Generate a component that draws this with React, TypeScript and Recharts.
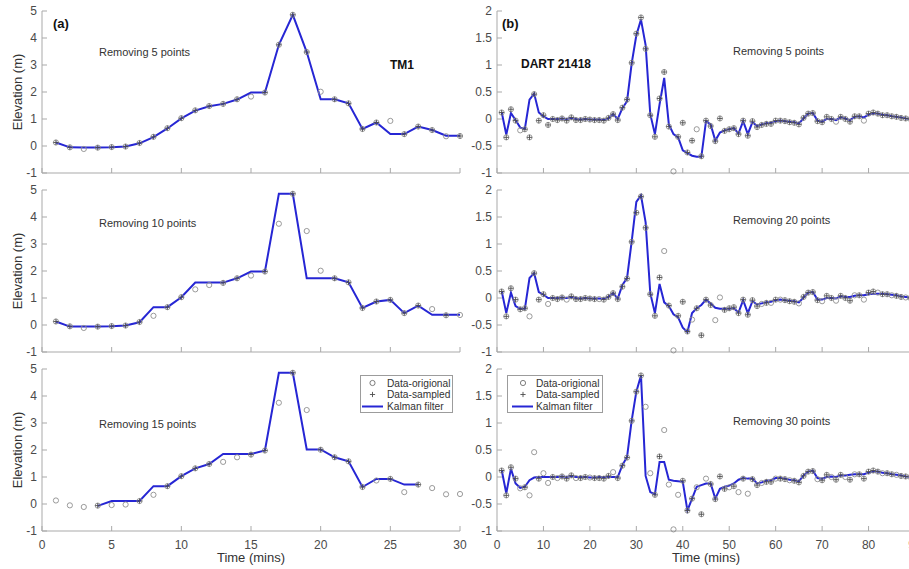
import React from "react";
import { ComposedChart, Line, XAxis, YAxis, Legend } from "recharts";

const FONT = '"Liberation Sans", Arial, Helvetica, sans-serif';
const BLUE = "#2626d4";
const AXIS = "#a9a9a9";
const TICK_TEXT = "#4a4a4a";

// TM1 gauge, one value per minute
const tm1Time = [1, 2, 3, 4, 5, 6, 7, 8, 9, 10, 11, 12, 13, 14, 15, 16, 17, 18, 19, 20, 21, 22, 23, 24, 25, 26, 27, 28, 29, 30];
const tm1Orig = [0.13, -0.05, -0.11, -0.06, -0.04, -0.02, 0.11, 0.34, 0.66, 1.03, 1.32, 1.48, 1.56, 1.73, 1.83, 1.98, 3.75, 4.86, 3.48, 2.01, 1.73, 1.58, 0.63, 0.87, 0.93, 0.44, 0.72, 0.59, 0.36, 0.37];
const tm1Kalman5 = [0.13, -0.05, -0.06, -0.06, -0.05, -0.02, 0.1, 0.33, 0.65, 1.02, 1.31, 1.47, 1.56, 1.72, 1.98, 1.98, 3.75, 4.86, 3.48, 1.73, 1.73, 1.58, 0.63, 0.87, 0.44, 0.44, 0.72, 0.59, 0.38, 0.38];
const tm1Kalman10 = [0.13, -0.06, -0.06, -0.06, -0.05, -0.02, 0.1, 0.66, 0.66, 1.03, 1.57, 1.57, 1.57, 1.73, 1.98, 1.98, 4.86, 4.86, 1.73, 1.73, 1.73, 1.58, 0.63, 0.87, 0.93, 0.44, 0.72, 0.38, 0.38, 0.38];
const tm1Kalman15 = [null, null, null, -0.07, 0.11, 0.11, 0.11, 0.66, 0.66, 1.03, 1.32, 1.48, 1.85, 1.85, 1.85, 1.98, 4.86, 4.86, 2.02, 2.02, 1.73, 1.58, 0.63, 0.93, 0.93, 0.72, 0.72, null, null, null];
const tm1Removed5 = [3, 15, 20, 25, 29];
const tm1Removed10 = [3, 8, 11, 12, 15, 17, 19, 20, 28, 30];
const tm1Removed15 = [1, 2, 3, 5, 6, 8, 13, 14, 17, 19, 24, 26, 28, 29, 30];

// DART 21418, one value per minute
const dartTime = [
  1, 2, 3, 4, 5, 6, 7, 8, 9, 10, 11, 12, 13, 14, 15, 16, 17, 18, 19, 20, 21, 22, 23, 24, 25, 26, 27, 28, 29, 30,
  31, 32, 33, 34, 35, 36, 37, 38, 39, 40, 41, 42, 43, 44, 45, 46, 47, 48, 49, 50, 51, 52, 53, 54, 55, 56, 57, 58, 59, 60,
  61, 62, 63, 64, 65, 66, 67, 68, 69, 70, 71, 72, 73, 74, 75, 76, 77, 78, 79, 80, 81, 82, 83, 84, 85, 86, 87, 88, 89, 90,
];
const dartOrig = [
  0.12, -0.34, 0.18, -0.03, -0.21, -0.19, -0.34, 0.46, -0.03, 0.07, -0.11, 0.0, -0.02, 0.01, -0.03, 0.03, -0.02, -0.02, 0.0, -0.01,
  -0.02, -0.02, -0.03, 0.02, 0.09, -0.02, 0.21, 0.36, 1.04, 1.58, 1.88, 1.3, 0.07, -0.33, 0.38, 0.87, -0.14, -0.97, -0.33, -0.07,
  -0.62, -0.4, -0.19, -0.69, -0.03, -0.13, -0.41, 0.01, -0.22, -0.19, -0.17, -0.28, -0.03, -0.31, -0.04, -0.15, -0.11, -0.09, -0.09, -0.03,
  -0.03, -0.04, -0.06, -0.07, -0.1, 0.02, 0.1, 0.11, -0.04, -0.06, 0.04, 0.0, -0.05, 0.04, 0.0, -0.05, 0.05, 0.05, -0.03, 0.1,
  0.12, 0.1, 0.07, 0.07, 0.05, 0.04, 0.02, 0.01, 0.0, -0.02,
];
const dartKalman5 = [
  0.13, -0.29, 0.11, -0.02, -0.16, -0.18, 0.36, 0.47, 0.12, 0.05, 0.0, 0.0, 0.0, 0.01, 0.0, 0.02, 0.0, -0.01, 0.0, -0.01,
  -0.01, -0.01, -0.02, 0.01, 0.09, 0.0, 0.2, 0.33, 1.03, 1.55, 1.84, 1.37, 0.09, -0.28, 0.27, 0.76, -0.1, -0.28, -0.34, -0.58,
  -0.63, -0.68, -0.7, -0.7, -0.04, -0.1, -0.4, -0.25, -0.21, -0.19, -0.17, -0.27, -0.04, -0.28, -0.06, -0.13, -0.1, -0.08, -0.07, -0.04,
  -0.03, -0.04, -0.05, -0.06, -0.08, 0.01, 0.1, 0.11, -0.03, -0.05, 0.0, 0.0, -0.02, 0.03, 0.01, -0.02, 0.04, 0.05, 0.03, 0.08,
  0.1, 0.1, 0.08, 0.07, 0.05, 0.04, 0.03, 0.01, 0.0, -0.01,
];
const dartKalman20 = [
  0.13, -0.28, 0.1, -0.15, -0.2, -0.2, 0.37, 0.46, 0.11, 0.06, 0.0, 0.0, 0.0, 0.01, 0.0, 0.02, 0.0, -0.01, 0.0, -0.01,
  -0.01, -0.01, -0.02, 0.02, 0.09, -0.01, 0.24, 0.37, 1.05, 1.78, 1.9, 1.4, 0.09, -0.28, 0.26, -0.08, -0.15, -0.3, -0.36, -0.55,
  -0.63, -0.28, -0.19, -0.13, -0.03, -0.1, -0.18, -0.2, -0.2, -0.2, -0.19, -0.27, -0.04, -0.28, -0.06, -0.12, -0.1, -0.08, -0.07, -0.04,
  -0.03, -0.04, -0.05, -0.06, -0.08, 0.01, 0.1, 0.11, -0.03, -0.03, 0.0, 0.0, -0.01, 0.03, 0.02, 0.02, 0.04, 0.05, 0.05, 0.07,
  0.08, 0.08, 0.08, 0.07, 0.06, 0.05, 0.03, 0.02, 0.01, 0.0,
];
const dartKalman30 = [
  0.13, -0.3, 0.15, -0.12, -0.2, -0.18, -0.06, -0.01, 0.0, 0.0, 0.0, 0.0, 0.0, 0.01, 0.0, 0.02, 0.0, 0.0, 0.0, -0.01,
  -0.01, 0.0, 0.0, 0.0, 0.0, 0.0, 0.22, 0.37, 1.05, 1.58, 1.88, 0.02, -0.28, -0.32, 0.28, 0.28, -0.05, -0.07, -0.08, -0.09,
  -0.62, -0.4, -0.18, -0.15, -0.12, -0.12, -0.4, -0.22, -0.18, -0.16, -0.12, -0.05, -0.02, -0.03, -0.03, -0.12, -0.1, -0.07, -0.06, -0.02,
  -0.02, -0.03, -0.05, -0.06, -0.08, 0.03, 0.1, 0.12, -0.02, -0.03, 0.0, 0.01, 0.0, 0.03, 0.03, 0.04, 0.05, 0.05, 0.05, 0.08,
  0.1, 0.1, 0.08, 0.07, 0.05, 0.04, 0.03, 0.01, 0.0, -0.01,
];
const dartRemoved5 = [5, 38, 43, 73, 79];
const dartRemoved20 = [7, 11, 15, 22, 36, 38, 42, 47, 48, 57, 59, 61, 65, 70, 73, 77, 79, 82, 85, 88];
const dartRemoved30 = [5, 7, 8, 10, 11, 13, 17, 20, 25, 32, 33, 36, 37, 38, 39, 43, 45, 50, 52, 54, 57, 60, 63, 69, 72, 75, 77, 83, 86, 89];

const tm1XTicks = [0, 5, 10, 15, 20, 25, 30];
const tm1YTicks = [-1, 0, 1, 2, 3, 4, 5];
const dartXTicks = [0, 10, 20, 30, 40, 50, 60, 70, 80, 90];
const dartYTicks = [-1, -0.5, 0, 0.5, 1, 1.5, 2];
const legendLabels = ["Data-origional", "Data-sampled", "Kalman filter"];

type Row = { t: number; orig: number | null; sampled: number | null; kalman: number | null };

function buildRows(time: number[], orig: number[], kalman: (number | null)[], removed: number[]): Row[] {
  return time.map((t, i) => ({
    t,
    orig: orig[i],
    sampled: removed.includes(t) ? null : orig[i],
    kalman: kalman[i],
  }));
}

function openCircle(props: any) {
  const { cx, cy, index } = props;
  if (cx == null || cy == null || props.value == null) return <g key={`o-${index}`} />;
  return <circle key={`o-${index}`} cx={cx} cy={cy} r={2.6} fill="none" stroke="#8e8e8e" strokeWidth={0.9} />;
}

function plusMark(props: any) {
  const { cx, cy, index } = props;
  if (cx == null || cy == null || props.value == null) return <g key={`p-${index}`} />;
  return (
    <path
      key={`p-${index}`}
      d={`M${cx - 2.6},${cy}H${cx + 2.6}M${cx},${cy - 2.6}V${cy + 2.6}`}
      stroke="#4d4d4d"
      strokeWidth={0.9}
      fill="none"
    />
  );
}

interface Note {
  text: string;
  x: number;
  y: number;
  bold?: boolean;
  size?: number;
}

interface LegendSpec {
  x: number;
  y: number;
  w: number;
  markerX: number;
  lineX1: number;
  lineX2: number;
  textX: number;
}

function LegendBox({ spec }: { spec: LegendSpec }) {
  const rowsY = [8, 19.5, 31.5];
  return (
    <svg width={spec.w} height={38} style={{ display: "block" }}>
      <rect x={0.5} y={0.5} width={spec.w - 1} height={37} fill="#fff" stroke="#9c9c9c" strokeWidth={1} />
      <circle cx={spec.markerX} cy={rowsY[0]} r={2.6} fill="none" stroke="#6e6e6e" strokeWidth={0.9} />
      <path
        d={`M${spec.markerX - 2.6},${rowsY[1]}H${spec.markerX + 2.6}M${spec.markerX},${rowsY[1] - 2.6}V${rowsY[1] + 2.6}`}
        stroke="#4d4d4d"
        strokeWidth={0.9}
      />
      <line x1={spec.lineX1} x2={spec.lineX2} y1={rowsY[2]} y2={rowsY[2]} stroke={BLUE} strokeWidth={2} />
      {legendLabels.map((label, i) => (
        <text key={label} x={spec.textX} y={rowsY[i] + 3.6} fontSize={10.2} fontFamily={FONT} fill="#333">
          {label}
        </text>
      ))}
    </svg>
  );
}

interface PanelProps {
  left: number;
  top: number;
  yAxisW: number;
  rows: Row[];
  xDomain: [number, number];
  xTicks: number[];
  yDomain: [number, number];
  yTicks: number[];
  bottom?: boolean;
  yLabel?: boolean;
  notes: Note[];
  legend?: LegendSpec;
}

const PLOT_W = 418;
const PLOT_H = 162;

function Panel({ left, top, yAxisW, rows, xDomain, xTicks, yDomain, yTicks, bottom, yLabel, notes, legend }: PanelProps) {
  const chartLeft = left - yAxisW;
  const chartTop = top - 6;
  const xAxisH = bottom ? 30 : 4;
  const width = yAxisW + PLOT_W + 10;
  const height = 6 + PLOT_H + xAxisH + 8;
  const axisProps = {
    stroke: AXIS,
    tickSize: -5,
    tick: { fill: TICK_TEXT, fontSize: 12, fontFamily: FONT },
    tickLine: { stroke: AXIS },
    axisLine: { stroke: AXIS },
  };
  const blank = () => "";

  return (
    <div style={{ position: "absolute", left: chartLeft, top: chartTop }}>
      <ComposedChart width={width} height={height} data={rows} margin={{ top: 6, right: 10, bottom: 8, left: 0 }}>
        <XAxis
          {...axisProps}
          xAxisId="b"
          dataKey="t"
          type="number"
          domain={xDomain}
          ticks={xTicks}
          height={xAxisH}
          tickMargin={14}
          interval={0}
          tickFormatter={bottom ? undefined : blank}
          label={
            bottom
              ? { value: "Time (mins)", position: "insideBottom", offset: -1, fill: "#333", fontSize: 13, fontFamily: FONT }
              : undefined
          }
        />
        <XAxis {...axisProps} xAxisId="top" orientation="top" dataKey="t" type="number" domain={xDomain} ticks={xTicks} height={0} interval={0} tickFormatter={blank} />
        <YAxis
          {...axisProps}
          yAxisId="l"
          type="number"
          domain={yDomain}
          ticks={yTicks}
          width={yAxisW}
          tickMargin={10}
          interval={0}
          label={
            yLabel
              ? { value: "Elevation (m)", angle: -90, position: "insideLeft", offset: 17, fill: "#333", fontSize: 13, fontFamily: FONT, style: { textAnchor: "middle" } }
              : undefined
          }
        />
        <YAxis {...axisProps} yAxisId="r" orientation="right" type="number" domain={yDomain} ticks={yTicks} width={0} interval={0} tickFormatter={blank} />
        <Line xAxisId="b" yAxisId="l" dataKey="orig" stroke="none" dot={openCircle} activeDot={false} isAnimationActive={false} />
        <Line xAxisId="b" yAxisId="l" dataKey="sampled" stroke="none" dot={plusMark} activeDot={false} isAnimationActive={false} />
        <Line xAxisId="b" yAxisId="l" dataKey="kalman" stroke={BLUE} strokeWidth={2} dot={false} activeDot={false} isAnimationActive={false} />
        {notes.map((n) => (
          <text
            key={n.text}
            x={n.x - chartLeft}
            y={n.y - chartTop}
            fontFamily={FONT}
            fontSize={n.size ?? 11}
            fontWeight={n.bold ? "bold" : "normal"}
            fill={n.bold ? "#111" : "#333"}
          >
            {n.text}
          </text>
        ))}
        {legend && (
          <Legend
            layout="vertical"
            align="center"
            verticalAlign="middle"
            wrapperStyle={{ left: legend.x - chartLeft, top: legend.y - chartTop, width: legend.w }}
            content={() => <LegendBox spec={legend} />}
          />
        )}
      </ComposedChart>
    </div>
  );
}

const LEFT_X = 42;
const RIGHT_X = 497;
const ROW_TOPS = [11, 190, 369];

export default function App() {
  return (
    <div style={{ position: "absolute", left: 0, top: 0, width: 909, height: 569, overflow: "hidden", background: "#fff" }}>
      <Panel
        left={LEFT_X}
        top={ROW_TOPS[0]}
        yAxisW={42}
        rows={buildRows(tm1Time, tm1Orig, tm1Kalman5, tm1Removed5)}
        xDomain={[0, 30]}
        xTicks={tm1XTicks}
        yDomain={[-1, 5]}
        yTicks={tm1YTicks}
        yLabel
        notes={[
          { text: "(a)", x: 53, y: 28, bold: true, size: 13 },
          { text: "Removing 5 points", x: 99, y: 56 },
          { text: "TM1", x: 390, y: 69, bold: true, size: 12 },
        ]}
      />
      <Panel
        left={LEFT_X}
        top={ROW_TOPS[1]}
        yAxisW={42}
        rows={buildRows(tm1Time, tm1Orig, tm1Kalman10, tm1Removed10)}
        xDomain={[0, 30]}
        xTicks={tm1XTicks}
        yDomain={[-1, 5]}
        yTicks={tm1YTicks}
        yLabel
        notes={[{ text: "Removing 10 points", x: 99, y: 227 }]}
      />
      <Panel
        left={LEFT_X}
        top={ROW_TOPS[2]}
        yAxisW={42}
        rows={buildRows(tm1Time, tm1Orig, tm1Kalman15, tm1Removed15)}
        xDomain={[0, 30]}
        xTicks={tm1XTicks}
        yDomain={[-1, 5]}
        yTicks={tm1YTicks}
        yLabel
        bottom
        notes={[{ text: "Removing 15 points", x: 99, y: 428 }]}
        legend={{ x: 360, y: 375, w: 93, markerX: 372.5 - 360, lineX1: 2, lineX2: 23, textX: 27 }}
      />
      <Panel
        left={RIGHT_X}
        top={ROW_TOPS[0]}
        yAxisW={45}
        rows={buildRows(dartTime, dartOrig, dartKalman5, dartRemoved5)}
        xDomain={[0, 90]}
        xTicks={dartXTicks}
        yDomain={[-1, 2]}
        yTicks={dartYTicks}
        notes={[
          { text: "(b)", x: 502, y: 28, bold: true, size: 13 },
          { text: "DART 21418", x: 521, y: 68, bold: true, size: 12 },
          { text: "Removing 5 points", x: 733, y: 55 },
        ]}
      />
      <Panel
        left={RIGHT_X}
        top={ROW_TOPS[1]}
        yAxisW={45}
        rows={buildRows(dartTime, dartOrig, dartKalman20, dartRemoved20)}
        xDomain={[0, 90]}
        xTicks={dartXTicks}
        yDomain={[-1, 2]}
        yTicks={dartYTicks}
        notes={[{ text: "Removing 20 points", x: 733, y: 224 }]}
      />
      <Panel
        left={RIGHT_X}
        top={ROW_TOPS[2]}
        yAxisW={45}
        rows={buildRows(dartTime, dartOrig, dartKalman30, dartRemoved30)}
        xDomain={[0, 90]}
        xTicks={dartXTicks}
        yDomain={[-1, 2]}
        yTicks={dartYTicks}
        bottom
        notes={[{ text: "Removing 30 points", x: 733, y: 425 }]}
        legend={{ x: 507, y: 375, w: 96, markerX: 16, lineX1: 5, lineX2: 26, textX: 29 }}
      />
    </div>
  );
}
